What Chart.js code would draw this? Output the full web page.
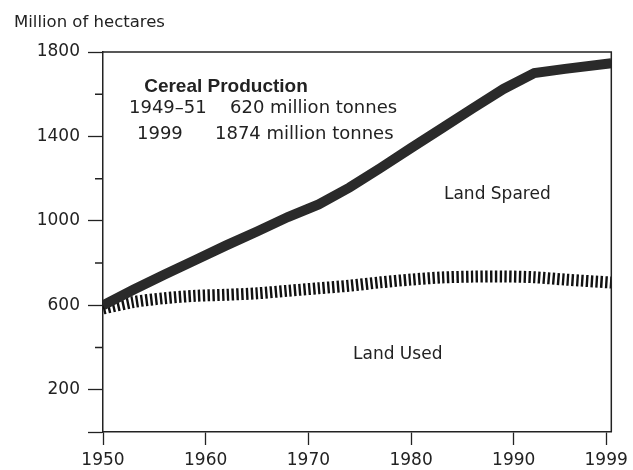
<!DOCTYPE html>
<html lang="en">
<head>
  <meta charset="UTF-8" />
  <title>Cereal Production - Land Spared</title>
  <script src="https://cdn.jsdelivr.net/npm/chart.js"></script>
  <style>
    body {
      margin: 0;
      background: #ffffff;
    }
    canvas {
      display: block;
    }
  </style>
</head>
<body>
  <canvas id="landChart" width="633" height="470"></canvas>

  <script>
    // values (million hectares)
    const years = [1950, 1953, 1956, 1959, 1962, 1965, 1968, 1971, 1974, 1977, 1980, 1983, 1986, 1989, 1992, 1995, 1999.5];
    const landNeeded = [600, 675, 746, 815, 884, 950, 1018, 1078, 1158, 1250, 1345, 1439, 1533, 1625, 1700, 1720, 1747];
    const landUsed = [585, 616, 634, 645, 650, 657, 669, 681, 693, 709, 722, 732, 736, 737, 733, 722, 708];

    const xTickYears = [1950, 1960, 1970, 1980, 1990, 1999];
    const yLabelled = [200, 600, 1000, 1400, 1800];

    const ink = '#222222';
    const fontFamily = '"DejaVu Sans", sans-serif';

    const annotations = {
      id: 'annotations',
      afterDraw(chart) {
        const { ctx, chartArea: ca, scales } = chart;
        ctx.save();

        // frame top + right
        ctx.strokeStyle = ink;
        ctx.lineWidth = 1.5;
        ctx.beginPath();
        ctx.moveTo(ca.left, ca.top);
        ctx.lineTo(ca.right, ca.top);
        ctx.lineTo(ca.right, ca.bottom);
        ctx.stroke();

        // short minor ticks on y axis
        const y = scales.y;
        ctx.beginPath();
        y.ticks.forEach(t => {
          if (t.value === 0 || yLabelled.includes(t.value)) return;
          const py = y.getPixelForValue(t.value);
          ctx.moveTo(ca.left - 8, py);
          ctx.lineTo(ca.left, py);
        });
        ctx.stroke();

        ctx.fillStyle = ink;
        ctx.textBaseline = 'alphabetic';
        ctx.textAlign = 'left';

        ctx.font = '16.5px ' + fontFamily;
        ctx.fillText('Million of hectares', 14, 27);

        ctx.font = 'bold 19px "Liberation Sans", Arial, sans-serif';
        ctx.textAlign = 'center';
        ctx.fillText('Cereal Production', ca.left + 123, ca.top + 40);

        ctx.font = '18px ' + fontFamily;
        ctx.textAlign = 'left';
        ctx.fillText('1949\u201351', ca.left + 26, ca.top + 61);
        ctx.fillText('620 million tonnes', ca.left + 127, ca.top + 61);
        ctx.fillText('1999', ca.left + 34, ca.top + 87);
        ctx.fillText('1874 million tonnes', ca.left + 112, ca.top + 87);

        const x = scales.x;
        ctx.font = '17px ' + fontFamily;
        ctx.textAlign = 'center';
        ctx.fillText('Land Spared', x.getPixelForValue(1988.4), y.getPixelForValue(1105));
        ctx.fillText('Land Used', x.getPixelForValue(1978.7), y.getPixelForValue(345));

        ctx.restore();
      }
    };

    const ctx = document.getElementById('landChart').getContext('2d');
    const landChart = new Chart(ctx, {
      type: 'line',
      data: {
        datasets: [
          {
            label: 'Land needed at 1949-51 yields',
            data: years.map((yr, i) => ({ x: yr, y: landNeeded[i] })),
            borderColor: '#2a2a2a',
            borderWidth: 10,
            borderCapStyle: 'butt',
            pointRadius: 0,
            tension: 0
          },
          {
            label: 'Land used',
            data: years.map((yr, i) => ({ x: yr, y: landUsed[i] })),
            borderColor: '#111111',
            borderWidth: 12,
            borderDash: [2.4, 2.4],
            borderCapStyle: 'butt',
            pointRadius: 0,
            tension: 0.3
          }
        ]
      },
      options: {
        responsive: false,
        animation: false,
        devicePixelRatio: 1,
        layout: {
          padding: { left: 0, top: 52, right: 19, bottom: 0 }
        },
        plugins: {
          legend: { display: false },
          tooltip: { enabled: false }
        },
        scales: {
          x: {
            type: 'linear',
            min: 1950,
            max: 1999.5,
            afterBuildTicks: scale => {
              scale.ticks = xTickYears.map(v => ({ value: v }));
            },
            afterFit: scale => { scale.height = 38; },
            grid: {
              drawOnChartArea: false,
              tickLength: 13,
              tickColor: ink,
              tickWidth: 1.3
            },
            border: { display: true, color: ink, width: 1.5 },
            ticks: {
              autoSkip: false,
              maxRotation: 0,
              padding: 5,
              color: ink,
              font: { family: fontFamily, size: 17 },
              callback: v => String(v)
            }
          },
          y: {
            min: 0,
            max: 1800,
            afterFit: scale => { scale.width = 103; },
            grid: {
              drawOnChartArea: false,
              tickLength: 15,
              tickWidth: 1.3,
              tickColor: c => (c.tick && (c.tick.value === 0 || yLabelled.includes(c.tick.value))) ? ink : 'rgba(0,0,0,0)'
            },
            border: { display: true, color: ink, width: 1.5 },
            ticks: {
              stepSize: 200,
              padding: 8,
              color: ink,
              font: { family: fontFamily, size: 17 },
              callback: v => yLabelled.includes(v) ? String(v) : ''
            }
          }
        }
      },
      plugins: [annotations]
    });
  </script>
</body>
</html>
